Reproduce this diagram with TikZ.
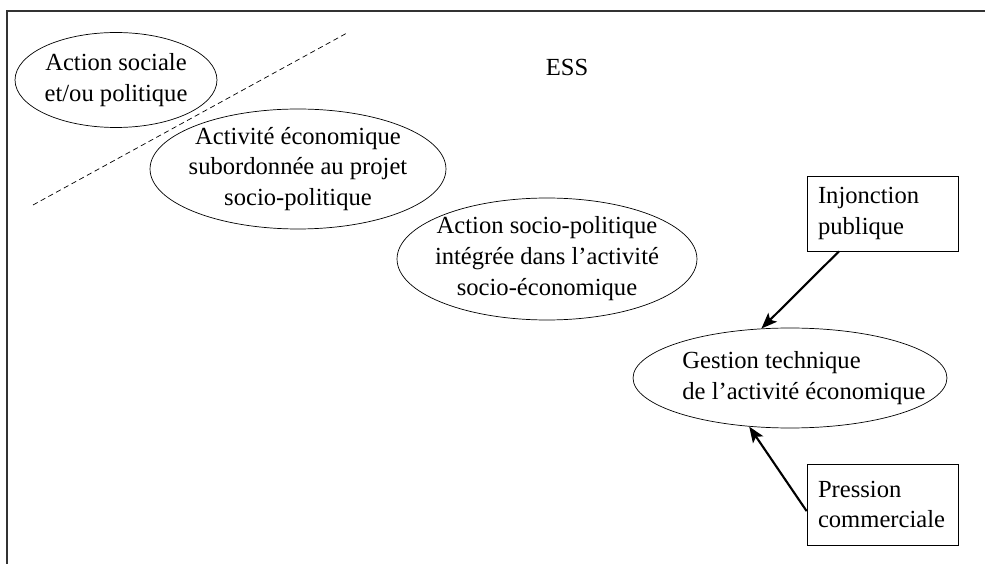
\documentclass[tikz,border=0pt]{standalone}
\usepackage{fontspec}
\setmainfont{Liberation Serif}
\usepackage{tikz}
\usetikzlibrary{
    shapes
  , arrows.meta
  , calc
  , positioning
}

\begin{document}
\begin{tikzpicture}[x=0.02cm, y=-0.02cm, font=\fontsize{14}{17.6}\selectfont, >={Stealth[length=9pt, width=7pt, inset=2pt]}]
  \useasboundingbox (0,0) rectangle (985,564);
  % Frame
  \coordinate (fbl) at (7,564);
  \coordinate (ftl) at (7,11);
  \coordinate (ftr) at (985,11);
  \draw[line width=1pt, black!80] (fbl) -- (ftl) -- (ftr);
  % Ellipses
  \node[draw, ellipse, thin, inner sep=-20pt, align=center, minimum width=4.04cm, minimum height=1.9cm] (action) at (116,80) {Action sociale\\et/ou politique};
  \node[draw, ellipse, thin, inner sep=-20pt, align=center, minimum width=5.92cm, minimum height=2.4cm] (activite) at (298,169) {Activité économique\\subordonnée au projet\\socio-politique};
  \node[draw, ellipse, thin, inner sep=-20pt, align=center, minimum width=6cm, minimum height=2.44cm] (integree) at (547,259) {Action socio-politique\\intégrée dans l’activité\\socio-économique};
  \node[draw, ellipse, thin, inner sep=-20pt, align=left, minimum width=6.28cm, minimum height=2cm] (gestion) at (790,378) {\hspace*{0.56cm}Gestion technique\\\hspace*{0.56cm}de l’activité économique};
  \node (ess) at (567,67) {ESS};
  % Boxes
  \node[draw, rectangle, thin, align=left, text width=2.58cm, inner xsep=0.22cm, minimum height=1.5cm] (injonction) at (882.5,213.5) {Injonction\\publique};
  \node[draw, rectangle, thin, align=left, text width=2.58cm, inner xsep=0.22cm, minimum height=1.62cm] (pression) at (882.5,504.5) {Pression\\commerciale};
  % Dividing line
  \coordinate (dlow) at (33,205);
  \coordinate (dhigh) at (347,33);
  \draw[densely dashed, thin] (dlow) -- (dhigh);
  % Arrows to Gestion
  \draw[->, line width=1.2pt] (injonction.221) to (gestion.120);
  \draw[->, line width=1.2pt] (pression.185) to (gestion.230);
\end{tikzpicture}
\end{document}
